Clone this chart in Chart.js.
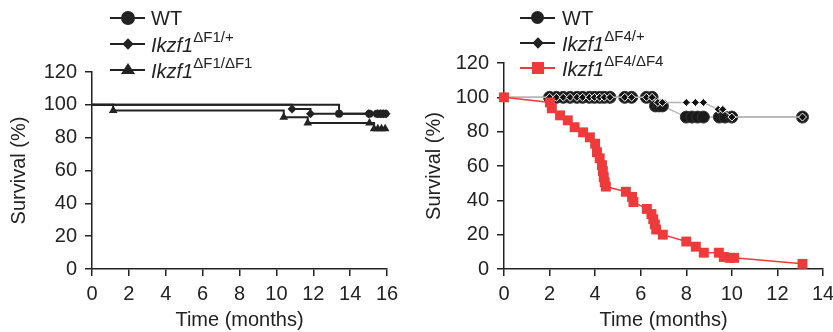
<!DOCTYPE html>
<html>
<head>
<meta charset="utf-8">
<script src="https://cdn.jsdelivr.net/npm/chart.js@4"></script>
<style>
body{margin:0;background:#fff;width:833px;height:332px;position:relative;overflow:hidden;font-family:"Liberation Sans",Arial,Helvetica,sans-serif;color:#222}
canvas{position:absolute;top:0}
#c1{left:0}
#c2{left:416px}
.txt{position:absolute;height:20px;line-height:20px;font-size:20px;white-space:nowrap}
.txt i{font-style:italic}
.txt sup{font-size:15px;font-style:normal;position:relative;top:-10px;vertical-align:baseline;line-height:0}
.ln{position:absolute;height:2px;width:35px;background:#222}
.mk{position:absolute}
</style>
</head>
<body>
<canvas id="c1" width="416" height="332"></canvas>
<canvas id="c2" width="430" height="332"></canvas>

<!-- legend left -->
<div class="ln" style="left:110px;top:17px"></div>
<div class="mk" style="left:121px;top:11px;width:14px;height:14px;border-radius:50%;background:#222"></div>
<div class="txt" style="left:151px;top:8px">WT</div>

<div class="ln" style="left:110px;top:43px"></div>
<div class="mk" style="left:124px;top:40px;width:8px;height:8px;background:#222;transform:rotate(45deg)"></div>
<div class="txt" style="left:151px;top:35px"><i>Ikzf1</i><sup>ΔF1/+</sup></div>

<div class="ln" style="left:110px;top:69px"></div>
<div class="mk" style="left:121px;top:63px;width:0;height:0;border-left:7px solid transparent;border-right:7px solid transparent;border-bottom:11px solid #222"></div>
<div class="txt" style="left:151px;top:61px"><i>Ikzf1</i><sup>ΔF1/ΔF1</sup></div>

<!-- legend right -->
<div class="ln" style="left:520px;top:17px"></div>
<div class="mk" style="left:531px;top:11px;width:13px;height:13px;border-radius:50%;background:#222"></div>
<div class="txt" style="left:562px;top:8px">WT</div>

<div class="ln" style="left:520px;top:42px"></div>
<div class="mk" style="left:534px;top:39px;width:8px;height:8px;background:#222;transform:rotate(45deg)"></div>
<div class="txt" style="left:562px;top:34px"><i>Ikzf1</i><sup>ΔF4/+</sup></div>

<div class="ln" style="left:520px;top:67px;background:#ee3a3a"></div>
<div class="mk" style="left:532px;top:62px;width:12px;height:12px;background:#ee3a3a"></div>
<div class="txt" style="left:562px;top:59px"><i>Ikzf1</i><sup>ΔF4/ΔF4</sup></div>

<script>
// left panel: Ikzf1 ΔF1
var leftWtT = [0, 13.4, 15.05, 15.45, 15.6, 15.75, 15.9];
var leftWtS = [100, 94.5, 94.5, 94.5, 94.5, 94.5, 94.5];
var leftHetT = [0, 10.85, 11.85, 15.0, 15.5, 15.65, 15.8, 15.95];
var leftHetS = [100, 97.5, 94.5, 94.5, 94.5, 94.5, 94.5, 94.5];
var leftHomT = [0, 1.15, 10.4, 11.7, 15.05, 15.3, 15.5, 15.7, 15.9];
var leftHomS = [100, 96.5, 92.5, 89, 89, 85.5, 85.5, 85.5, 85.5];

// right panel: Ikzf1 ΔF4
var rightWtT = [0, 2.0, 2.3, 2.6, 2.9, 3.2, 3.45, 3.75, 3.97, 4.2, 4.4, 4.65, 5.3, 5.6, 6.25, 6.5,
                6.65, 6.8, 6.95, 8.0, 8.25, 8.5, 8.75, 9.45, 9.7, 10.0, 13.1];
var rightWtS = [100, 100, 100, 100, 100, 100, 100, 100, 100, 100, 100, 100, 100, 100, 100, 100,
                95, 95, 95, 88.5, 88.5, 88.5, 88.5, 88.5, 88.5, 88.5, 88.5];
var rightHetT = [0, 2.0, 2.3, 2.6, 2.9, 3.2, 3.45, 3.75, 3.97, 4.2, 4.4, 4.65, 5.3, 5.6, 6.25, 6.5,
                 6.75, 6.95, 8.0, 8.4, 8.75, 9.4, 9.6, 10.0, 13.1];
var rightHetS = [100, 100, 100, 100, 100, 100, 100, 100, 100, 100, 100, 100, 100, 100, 100, 100,
                 97, 97, 97, 97, 97, 93, 93, 88.5, 88.5];
var koT = [0, 2.02, 2.1, 2.46, 2.8, 3.1, 3.47, 3.77, 4.0, 4.08, 4.2, 4.3, 4.34, 4.38, 4.42, 4.47,
           5.35, 5.62, 5.68, 6.27, 6.47, 6.55, 6.62, 6.68, 6.97, 8.0, 8.42, 8.77, 9.43, 9.65, 9.9, 10.1, 13.1];
var koS = [100, 97, 93.6, 89.5, 86.6, 82.6, 79.6, 76.7, 73, 68, 64.5, 60.5, 57, 53.5, 50.5, 48,
           45, 42, 39, 35, 32, 29, 26, 23, 20, 16, 13, 9.5, 9.5, 7, 6.5, 6.5, 3];

var xTicksLeft = [0, 2, 4, 6, 8, 10, 12, 14, 16];
var xTicksRight = [0, 2, 4, 6, 8, 10, 12, 14];
var yTicks = [0, 20, 40, 60, 80, 100, 120];

var FONT = '"Liberation Sans", Arial, Helvetica, sans-serif';
var INK = '#222';

function pts(t, s) {
  var out = [];
  for (var i = 0; i < t.length; i++) out.push({x: t[i], y: s[i]});
  return out;
}
// no symbol on the starting point of the grey / black curves
function skipFirst(t, r) {
  return t.map(function (v, i) { return i === 0 ? 0 : r; });
}

function scales(ticksX, yWidth, yTitlePad) {
  return {
    x: {
      type: 'linear', min: ticksX[0], max: ticksX[ticksX.length - 1],
      afterBuildTicks: function (s) { s.ticks = ticksX.map(function (v) { return {value: v}; }); },
      afterFit: function (s) { s.height = 63; },
      ticks: {color: INK, font: {size: 20, family: FONT}, padding: 6, maxRotation: 0, autoSkip: false},
      grid: {drawOnChartArea: false, color: INK, lineWidth: 1.5, tickLength: 7},
      border: {color: INK, width: 1.5},
      title: {display: true, text: 'Time (months)', color: INK, font: {size: 20, family: FONT}, padding: {top: 0, bottom: 0}}
    },
    y: {
      type: 'linear', min: 0, max: 120,
      afterBuildTicks: function (s) { s.ticks = yTicks.map(function (v) { return {value: v}; }); },
      afterFit: function (s) { s.width = yWidth; },
      ticks: {color: INK, font: {size: 20, family: FONT}, padding: 8},
      grid: {drawOnChartArea: false, color: INK, lineWidth: 1.5, tickLength: 7},
      border: {color: INK, width: 1.5},
      title: {display: true, text: 'Survival (%)', color: INK, font: {size: 20, family: FONT}, padding: {top: yTitlePad, bottom: 0}}
    }
  };
}

function baseOpts(pad, ticksX, yWidth, yTitlePad) {
  return {
    responsive: false, animation: false, devicePixelRatio: 1,
    layout: {padding: pad},
    plugins: {legend: {display: false}, tooltip: {enabled: false}},
    elements: {line: {tension: 0}},
    scales: scales(ticksX, yWidth, yTitlePad)
  };
}

new Chart(document.getElementById('c1'), {
  type: 'line',
  data: {
    datasets: [
      {data: pts(leftWtT, leftWtS), stepped: 'before', borderColor: INK, borderWidth: 2,
       pointStyle: 'circle', pointRadius: skipFirst(leftWtT, 4), pointBackgroundColor: INK, pointBorderWidth: 0, clip: false},
      {data: pts(leftHetT, leftHetS), stepped: 'before', borderColor: INK, borderWidth: 2,
       pointStyle: 'rectRot', pointRadius: skipFirst(leftHetT, 4.5), pointBackgroundColor: INK, pointBorderWidth: 0, clip: false},
      {data: pts(leftHomT, leftHomS), stepped: 'before', borderColor: INK, borderWidth: 2,
       pointStyle: 'triangle', pointRadius: skipFirst(leftHomT, 5), pointBackgroundColor: INK, pointBorderWidth: 0, clip: false}
    ]
  },
  options: baseOpts({left: 0, top: 72, right: 29, bottom: 0}, xTicksLeft, 92, 7)
});

new Chart(document.getElementById('c2'), {
  type: 'line',
  data: {
    datasets: [
      {data: pts(koT, koS), borderColor: '#ee3a3a', borderWidth: 1.5, order: 0,
       pointStyle: 'rect', pointRadius: 7, pointBackgroundColor: '#ee3a3a', pointBorderWidth: 0, clip: false},
      {data: pts(rightHetT, rightHetS), borderColor: '#b5b5b5', borderWidth: 1.5, order: 1,
       pointStyle: 'rectRot', pointRadius: skipFirst(rightHetT, 4), pointBackgroundColor: '#111',
       pointBorderColor: '#fff', pointBorderWidth: 1, clip: false},
      {data: pts(rightWtT, rightWtS), borderColor: '#b5b5b5', borderWidth: 1.5, order: 2,
       pointStyle: 'circle', pointRadius: skipFirst(rightWtT, 6), pointBackgroundColor: '#1a1a1a',
       pointBorderColor: '#333', pointBorderWidth: 1, clip: false}
    ]
  },
  options: baseOpts({left: 0, top: 63, right: 23, bottom: 0}, xTicksRight, 88, 6)
});
</script>
</body>
</html>
